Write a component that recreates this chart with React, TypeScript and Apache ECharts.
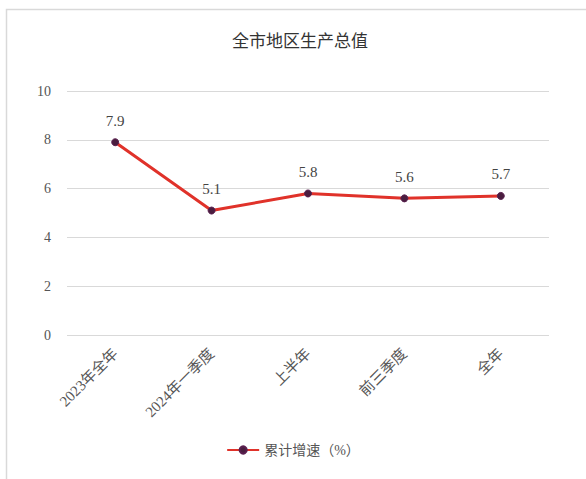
import React, { useEffect, useRef } from "react";
import * as echarts from "echarts";

const title = "全市地区生产总值";
const categories = ["2023年全年", "2024年一季度", "上半年", "前三季度", "全年"];
const seriesName = "累计增速（%）";
const growth = [7.9, 5.1, 5.8, 5.6, 5.7];

const FONT = "'Liberation Serif', 'Noto Sans CJK SC', serif";

export default function App() {
  const ref = useRef<HTMLDivElement>(null);
  useEffect(() => {
    if (!ref.current) return;
    const chart = echarts.init(ref.current, undefined, { renderer: "svg" });
    chart.setOption({
      animation: false,
      backgroundColor: "#ffffff",
      title: {
        text: title,
        left: 295,
        top: 26,
        textAlign: "center",
        textStyle: { fontFamily: "'Noto Sans CJK SC', sans-serif", fontSize: 17, fontWeight: "normal", color: "#333" },
      },
      graphic: [
        {
          type: "polyline",
          shape: { points: [[6.5, 479], [6.5, 9.5], [586, 9.5]] },
          style: { stroke: "#d9d9d9", lineWidth: 1.5, fill: "none" },
        },
      ],
      legend: {
        data: [seriesName],
        bottom: 17,
        left: "center",
        itemWidth: 32,
        itemHeight: 9,
        textStyle: { fontFamily: FONT, fontSize: 14, color: "#555" },
      },
      grid: { left: 67, right: 37, top: 91, bottom: 144, containLabel: false },
      xAxis: {
        type: "category",
        data: categories,
        boundaryGap: true,
        axisLine: { show: false },
        axisTick: { show: false },
        axisLabel: { rotate: 45, fontFamily: FONT, fontSize: 15, color: "#555", margin: 16, interval: 0 },
      },
      yAxis: {
        type: "value",
        min: 0,
        max: 10,
        interval: 2,
        axisLine: { show: false },
        axisTick: { show: false },
        axisLabel: { fontFamily: FONT, fontSize: 14, color: "#555", margin: 16 },
        splitLine: { lineStyle: { color: "#d9d9d9", width: 1 } },
      },
      series: [
        {
          name: seriesName,
          type: "line",
          data: growth,
          symbol: "circle",
          symbolSize: 7,
          lineStyle: { color: "#e0322a", width: 3 },
          itemStyle: { color: "#4a1d3f", borderColor: "#5a2050", borderWidth: 1 },
          label: {
            show: true,
            position: "top",
            distance: 10,
            fontFamily: FONT,
            fontSize: 15,
            color: "#444",
            formatter: (p: any) => p.value.toFixed(1),
          },
        },
      ],
    });
    return () => chart.dispose();
  }, []);
  return <div ref={ref} style={{ position: "fixed", left: 0, top: 0, width: 586, height: 479 }} />;
}
